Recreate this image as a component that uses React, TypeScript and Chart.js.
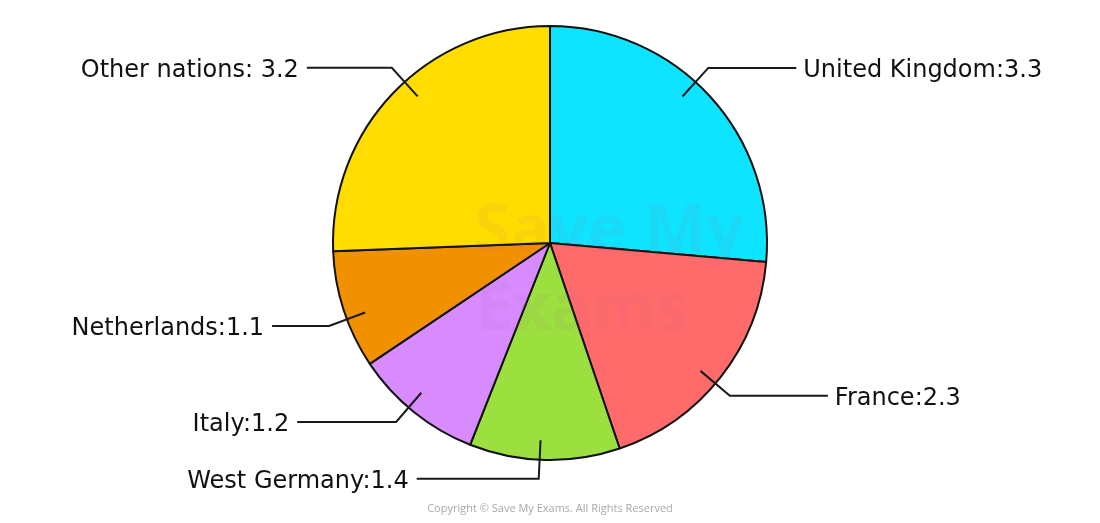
import { useEffect, useRef } from "react"
import { Chart, registerables } from "chart.js"

Chart.register(...registerables)

// Data
const countries = ["United Kingdom", "France", "West Germany", "Italy", "Netherlands", "Other nations"]
const values = [3.3, 2.3, 1.4, 1.2, 1.1, 3.2]
const labelTexts = ["United Kingdom:3.3", "France:2.3", "West Germany:1.4", "Italy:1.2", "Netherlands:1.1", "Other nations: 3.2"]
const sliceColors = ["#0ee4ff", "#ff6b6b", "#9be03f", "#d78bff", "#f29100", "#ffdd00"]

// leader line styling: angle nudge (deg) off the slice middle, and horizontal run length
const leaderNudges = [-5.4, 2.2, 1.3, 1.8, -2.6, 4.0]
const leaderRuns = [88, 98, 122, 99, 57, 85]

const leaderPlugin = {
  id: "leaders",
  afterDatasetsDraw(chart: any) {
    const ctx = chart.ctx
    const meta = chart.getDatasetMeta(0)

    // faint watermark
    ctx.save()
    ctx.fillStyle = "rgba(180, 90, 140, 0.07)"
    ctx.font = "bold 66px 'Open Sans', sans-serif"
    ctx.textAlign = "left"
    ctx.textBaseline = "alphabetic"
    ctx.fillText("Save My", 474, 252)
    ctx.fillText("Exams", 476, 330)
    ctx.restore()

    ctx.save()
    ctx.strokeStyle = "#1a1a1a"
    ctx.lineWidth = 2
    ctx.fillStyle = "#111"
    ctx.font = "24px 'DejaVu Sans', sans-serif"
    ctx.textBaseline = "alphabetic"

    meta.data.forEach((arc: any, i: number) => {
      const { x, y, startAngle, endAngle, outerRadius } = arc.getProps(
        ["x", "y", "startAngle", "endAngle", "outerRadius"],
        true
      )
      const mid = (startAngle + endAngle) / 2 + (leaderNudges[i] * Math.PI) / 180
      const cos = Math.cos(mid)
      const sin = Math.sin(mid)
      const inner = { x: x + cos * outerRadius * 0.91, y: y + sin * outerRadius * 0.91 }
      const elbow = { x: x + cos * (outerRadius + 19), y: y + sin * (outerRadius + 19) }
      const right = cos > 0
      const endX = elbow.x + (right ? leaderRuns[i] : -leaderRuns[i])

      ctx.beginPath()
      ctx.moveTo(inner.x, inner.y)
      ctx.lineTo(elbow.x, elbow.y)
      ctx.lineTo(endX, elbow.y)
      ctx.stroke()

      ctx.textAlign = right ? "left" : "right"
      ctx.fillText(labelTexts[i], endX + (right ? 7 : -8), elbow.y + 9)
    })
    ctx.restore()

    ctx.save()
    ctx.fillStyle = "#a8a8a8"
    ctx.font = "11px 'Open Sans', sans-serif"
    ctx.textAlign = "center"
    ctx.textBaseline = "middle"
    ctx.fillText("Copyright © Save My Exams. All Rights Reserved", 550, 509)
    ctx.restore()
  },
}

export default function App() {
  const canvasRef = useRef<HTMLCanvasElement>(null)
  const chartRef = useRef<Chart | null>(null)

  useEffect(() => {
    if (!canvasRef.current) return
    const ctx = canvasRef.current.getContext("2d")
    if (!ctx) return

    chartRef.current = new Chart(ctx, {
      type: "pie",
      data: {
        labels: countries,
        datasets: [
          {
            data: values,
            backgroundColor: sliceColors,
            borderColor: "#111",
            borderWidth: 2,
          },
        ],
      },
      options: {
        responsive: false,
        animation: false,
        layout: { padding: { top: 25, bottom: 62, left: 332, right: 332 } },
        plugins: {
          legend: { display: false },
          tooltip: { enabled: false },
        },
      },
      plugins: [leaderPlugin],
    })

    return () => {
      chartRef.current?.destroy()
    }
  }, [])

  return (
    <div style={{ position: "absolute", left: 0, top: 0, width: 1100, height: 523, background: "#fff" }}>
      <canvas ref={canvasRef} width={1100} height={523} />
    </div>
  )
}
